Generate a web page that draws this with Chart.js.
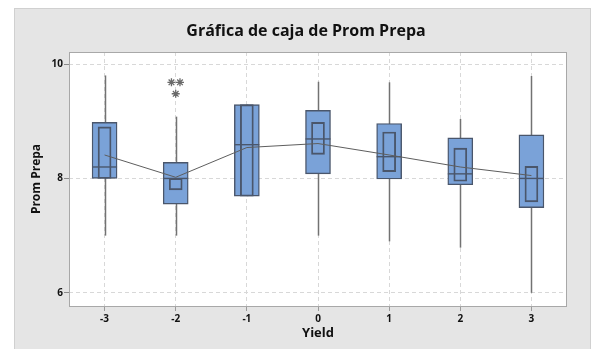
<!DOCTYPE html>
<html>
<head>
<meta charset="utf-8">
<script src="https://cdn.jsdelivr.net/npm/chart.js@4.4.0/dist/chart.umd.min.js"></script>
<style>
  html, body { margin: 0; padding: 0; background: #fff; }
  #wrap { width: 597px; height: 349px; }
</style>
</head>
<body>
<div id="wrap"><canvas id="chart" width="597" height="349"></canvas></div>
<script>
// Prom Prepa by Yield group
const yields      = [-3, -2, -1, 0, 1, 2, 3];
const whiskerLow  = [7.0, 7.0, 7.69, 7.0, 6.9, 6.79, 6.0];
const q1          = [8.0, 7.55, 7.69, 8.08, 7.99, 7.89, 7.49];
const medians     = [8.2, 8.0, 8.59, 8.69, 8.38, 8.08, 8.0];
const q3          = [8.98, 8.28, 9.29, 9.19, 8.96, 8.71, 8.76];
const whiskerHigh = [9.8, 9.08, 9.29, 9.69, 9.68, 9.04, 9.79];
// median confidence interval boxes
const ciLow  = [8.0, 7.8, 7.69, 8.42, 8.12, 7.95, 7.59];
const ciHigh = [8.9, 8.0, 9.29, 8.98, 8.81, 8.53, 8.21];
const means  = [8.41, 8.02, 8.54, 8.61, 8.41, 8.2, 8.05];
// outliers (the two at 9.68 are side by side)
const outlierX = [-2.06, -1.94, -2];
const outlierY = [9.68, 9.68, 9.48];
const yTicks = [6, 8, 10];

const FONT = '"Open Sans", "DejaVu Sans", sans-serif';
const BOX_FILL = '#7aa2d8';
const BOX_EDGE = '#4a566b';
const BOX_W = 25;

const boxDecor = {
  id: 'boxDecor',
  beforeDraw(chart) {
    const ctx = chart.ctx;
    const a = chart.chartArea;
    ctx.save();
    ctx.fillStyle = '#e5e5e5';
    ctx.fillRect(14, 8, 577, 341);
    ctx.strokeStyle = '#d0d0d0';
    ctx.lineWidth = 1;
    ctx.strokeRect(14.5, 8.5, 576, 341);
    ctx.fillStyle = '#ffffff';
    ctx.fillRect(a.left, a.top, a.right - a.left, a.bottom - a.top);
    ctx.restore();
  },
  beforeDatasetsDraw(chart) {
    const ctx = chart.ctx;
    const xs = chart.scales.x, ys = chart.scales.y;
    ctx.save();
    ctx.strokeStyle = '#727272';
    ctx.lineWidth = 1.5;
    yields.forEach((v, i) => {
      const px = Math.round(xs.getPixelForValue(v)) + 0.5;
      ctx.beginPath();
      ctx.moveTo(px, ys.getPixelForValue(whiskerLow[i]));
      ctx.lineTo(px, ys.getPixelForValue(whiskerHigh[i]));
      ctx.stroke();
    });
    ctx.restore();
  },
  afterDatasetDraw(chart, args) {
    if (args.index !== 3) return;
    const ctx = chart.ctx;
    const xs = chart.scales.x, ys = chart.scales.y;
    ctx.save();
    ctx.strokeStyle = BOX_EDGE;
    ctx.lineWidth = 1.4;
    yields.forEach((v, i) => {
      const px = xs.getPixelForValue(v);
      const py = ys.getPixelForValue(medians[i]);
      ctx.beginPath();
      ctx.moveTo(px - BOX_W / 2, py);
      ctx.lineTo(px + BOX_W / 2, py);
      ctx.stroke();
    });
    ctx.restore();
  },
  afterDraw(chart) {
    const ctx = chart.ctx;
    const a = chart.chartArea;
    ctx.save();
    ctx.strokeStyle = '#a8a8a8';
    ctx.lineWidth = 1;
    ctx.strokeRect(a.left + 0.5, a.top + 0.5, a.right - a.left - 1, a.bottom - a.top);
    ctx.fillStyle = '#111111';
    ctx.textAlign = 'center';
    ctx.textBaseline = 'middle';
    ctx.font = 'bold 16px ' + FONT;
    ctx.fillText('Gráfica de caja de Prom Prepa', 306, 31);
    ctx.font = 'bold 13px ' + FONT;
    ctx.fillText('Yield', (a.left + a.right) / 2, 333);
    ctx.translate(37, (a.top + a.bottom) / 2);
    ctx.rotate(-Math.PI / 2);
    ctx.font = 'bold 12px ' + FONT;
    ctx.fillText('Prom Prepa', 0, 0);
    ctx.restore();
  }
};

const ctx = document.getElementById('chart').getContext('2d');
new Chart(ctx, {
  type: 'bar',
  data: {
    datasets: [
      {
        type: 'line',
        data: yields.map((x, i) => ({ x, y: means[i] })),
        borderColor: '#5e5e5e',
        borderWidth: 1,
        pointRadius: 0,
        order: 0
      },
      {
        type: 'scatter',
        data: outlierX.map((x, i) => ({ x, y: outlierY[i] })),
        pointStyle: 'star',
        pointRadius: 4,
        borderColor: '#6a6a6a',
        borderWidth: 1.3,
        order: 0
      },
      {
        type: 'bar',
        data: yields.map((x, i) => ({ x, y: [ciLow[i], ciHigh[i]] })),
        backgroundColor: 'rgba(0,0,0,0)',
        borderColor: BOX_EDGE,
        borderWidth: 1.2,
        borderSkipped: false,
        barThickness: 13,
        grouped: false,
        order: 1
      },
      {
        type: 'bar',
        data: yields.map((x, i) => ({ x, y: [q1[i], q3[i]] })),
        backgroundColor: BOX_FILL,
        borderColor: BOX_EDGE,
        borderWidth: 1.4,
        borderSkipped: false,
        barThickness: BOX_W,
        grouped: false,
        order: 2
      }
    ]
  },
  options: {
    responsive: false,
    animation: false,
    devicePixelRatio: 1,
    layout: { padding: { left: 0, top: 52, right: 30, bottom: 0 } },
    plugins: { legend: { display: false }, tooltip: { enabled: false }, title: { display: false } },
    scales: {
      x: {
        type: 'linear',
        min: -3.5,
        max: 3.5,
        offset: false,
        afterBuildTicks: s => { s.ticks = yields.map(v => ({ value: v })); },
        afterFit: s => { s.height = 43; },
        grid: { offset: false, color: '#d8d8d8', tickColor: '#9a9a9a', tickLength: 5 },
        border: { display: false, dash: [4, 3] },
        ticks: { font: { family: FONT, weight: 'bold', size: 10 }, color: '#111', padding: 2, maxRotation: 0 }
      },
      y: {
        min: 5.77,
        max: 10.21,
        afterBuildTicks: s => { s.ticks = yTicks.map(v => ({ value: v })); },
        afterFit: s => { s.width = 69; },
        grid: { color: '#d8d8d8', tickColor: '#8a8a8a', tickLength: 5 },
        border: { display: false, dash: [4, 3] },
        ticks: { font: { family: FONT, weight: 'bold', size: 10 }, color: '#111', padding: 1 }
      }
    }
  },
  plugins: [boxDecor]
});
</script>
</body>
</html>
